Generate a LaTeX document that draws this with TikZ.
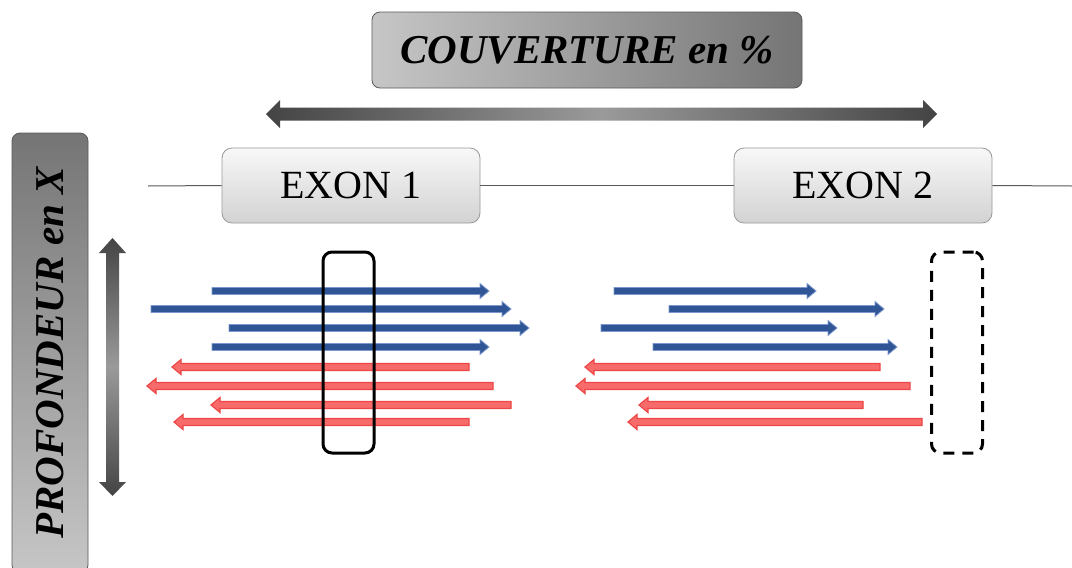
\documentclass[tikz,border=0pt]{standalone}
\usepackage{fontspec}
\setmainfont{Liberation Serif}
\usetikzlibrary{arrows.meta}
\definecolor{readblue}{HTML}{2F5597}
\definecolor{readblueedge}{HTML}{7C98CC}
\definecolor{readred}{HTML}{F76B6B}
\definecolor{readrededge}{HTML}{EE4646}
\definecolor{boxdark}{HTML}{757575}
\definecolor{boxlight}{HTML}{C6C6C6}
\definecolor{arrdark}{HTML}{444444}
\definecolor{arrmid}{HTML}{9A9A9A}
\definecolor{exontop}{HTML}{F8F8F8}
\definecolor{exonbot}{HTML}{D2D2D2}
\newcommand{\fwdread}[4]{% name, x1, x2, y
  \coordinate (#1) at (#2,#4);
  \filldraw[fill=readblue, draw=readblueedge, line width=0.8pt]
    (#2,{#4-3.5}) -- ({#3-9},{#4-3.5}) -- ({#3-9},{#4-7.5}) -- (#3,#4)
    -- ({#3-9},{#4+7.5}) -- ({#3-9},{#4+3.5}) -- (#2,{#4+3.5}) -- cycle;}
\newcommand{\revread}[4]{% name, xtip, xend, y
  \coordinate (#1) at (#2,#4);
  \filldraw[fill=readred, draw=readrededge, line width=1.2pt]
    (#3,{#4-3.5}) -- ({#2+9},{#4-3.5}) -- ({#2+9},{#4-7.5}) -- (#2,#4)
    -- ({#2+9},{#4+7.5}) -- ({#2+9},{#4+3.5}) -- (#3,{#4+3.5}) -- cycle;}
\begin{document}
\begin{tikzpicture}[x=1pt,y=-1pt,
  titlebox/.style={draw=black!65, line width=0.8pt, rounded corners=8pt,
    left color=boxlight, right color=boxdark,
    font=\fontsize{41}{48}\selectfont\bfseries\itshape, inner sep=0pt},
  sidebox/.style={draw=black!65, line width=0.8pt, rounded corners=8pt,
    top color=boxdark, bottom color=boxlight,
    font=\fontsize{41}{48}\selectfont\bfseries\itshape, inner sep=0pt},
  exonbox/.style={draw=black!40, line width=0.8pt, rounded corners=10pt,
    top color=exontop, bottom color=exonbot,
    minimum width=258pt, minimum height=75pt,
    font=\fontsize{40}{46}\selectfont, inner sep=0pt},
  windowbox/.style={draw=black, line width=3pt, rounded corners=9pt,
    minimum width=51pt, minimum height=201pt, inner sep=0pt},
  geneline/.style={draw=black!65, line width=1pt}
]
\useasboundingbox (0,0) rectangle (1072,568);
\clip (0,0) rectangle (1072,568);
\fill[white] (0,0) rectangle (1072,568);

% title
\node[titlebox, minimum width=430pt, minimum height=76pt] (title) at (587,50) {COUVERTURE en \%};

% coverage double arrow
\shade[left color=arrdark, right color=arrdark, middle color=arrmid]
  (266,114) -- (280,100) -- (280,107.5) -- (923,107.5) -- (923,100) -- (937,114)
  -- (923,128) -- (923,120.5) -- (280,120.5) -- (280,128) -- cycle;

% side box
\node[sidebox, rotate=90, minimum width=440pt, minimum height=76pt] (depth) at (50,353) {PROFONDEUR en X};

% depth double arrow
\shade[top color=arrdark, bottom color=arrdark, middle color=arrmid]
  (112.5,238) -- (126,253) -- (119,253) -- (119,482) -- (126,482) -- (112.5,496)
  -- (99,482) -- (106,482) -- (106,253) -- (99,253) -- cycle;

% gene line and exons
\coordinate (gstart) at (148,186);
\coordinate (gend) at (1072,186);
\node[exonbox] (exon1) at (351,185.5) {EXON 1};
\node[exonbox] (exon2) at (863,185.5) {EXON 2};
\draw[geneline] (gstart) -- (exon1.west);
\draw[geneline] (exon1.east) -- (exon2.west);
\draw[geneline] (exon2.east) -- (gend);

% reads exon 1
\fwdread{a1}{212}{489}{291}
\fwdread{a2}{151}{511}{309}
\fwdread{a3}{229}{529}{328}
\fwdread{a4}{212}{489}{347}
\revread{a5}{172}{469}{367}
\revread{a6}{147}{493}{386}
\revread{a7}{211}{511}{405}
\revread{a8}{174}{469}{422}

% reads exon 2
\fwdread{b1}{614}{816}{291}
\fwdread{b2}{669}{884}{309}
\fwdread{b3}{601}{837}{328}
\fwdread{b4}{653}{897}{347}
\revread{b5}{585}{880}{367}
\revread{b6}{576}{910}{386}
\revread{b7}{639}{863}{405}
\revread{b8}{628}{922}{422}

% windows
\node[windowbox] (win1) at (348.5,352.5) {};
\node[windowbox, dash pattern=on 11pt off 8pt] (win2) at (957,352.5) {};
\end{tikzpicture}
\end{document}
